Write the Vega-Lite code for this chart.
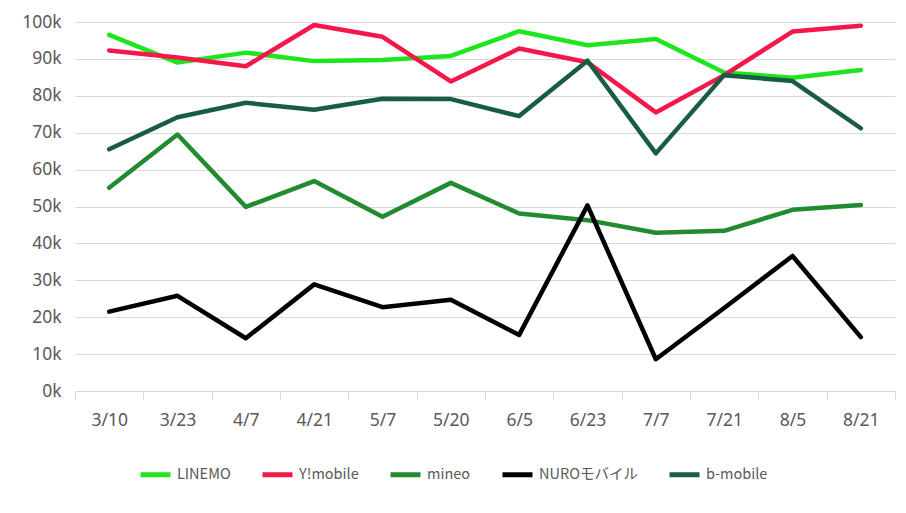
{
  "$schema": "https://vega.github.io/schema/vega-lite/v6.json",
  "width": 820,
  "height": 369,
  "autosize": {"type": "none"},
  "padding": {"left": 75, "top": 22, "right": 11, "bottom": 122},
  "background": "white",
  "config": {
    "view": {"stroke": null},
    "font": "Noto Sans"
  },
  "datasets": {
    "d": [
      {"date": "3/10", "series": "LINEMO", "value": 96500},
      {"date": "3/23", "series": "LINEMO", "value": 89000},
      {"date": "4/7", "series": "LINEMO", "value": 91700},
      {"date": "4/21", "series": "LINEMO", "value": 89400},
      {"date": "5/7", "series": "LINEMO", "value": 89700},
      {"date": "5/20", "series": "LINEMO", "value": 90800},
      {"date": "6/5", "series": "LINEMO", "value": 97500},
      {"date": "6/23", "series": "LINEMO", "value": 93700},
      {"date": "7/7", "series": "LINEMO", "value": 95400},
      {"date": "7/21", "series": "LINEMO", "value": 86300},
      {"date": "8/5", "series": "LINEMO", "value": 84900},
      {"date": "8/21", "series": "LINEMO", "value": 87000},
      {"date": "3/10", "series": "Y!mobile", "value": 92300},
      {"date": "3/23", "series": "Y!mobile", "value": 90400},
      {"date": "4/7", "series": "Y!mobile", "value": 88000},
      {"date": "4/21", "series": "Y!mobile", "value": 99200},
      {"date": "5/7", "series": "Y!mobile", "value": 96000},
      {"date": "5/20", "series": "Y!mobile", "value": 83900},
      {"date": "6/5", "series": "Y!mobile", "value": 92800},
      {"date": "6/23", "series": "Y!mobile", "value": 89100},
      {"date": "7/7", "series": "Y!mobile", "value": 75500},
      {"date": "7/21", "series": "Y!mobile", "value": 85600},
      {"date": "8/5", "series": "Y!mobile", "value": 97400},
      {"date": "8/21", "series": "Y!mobile", "value": 99000},
      {"date": "3/10", "series": "mineo", "value": 55100},
      {"date": "3/23", "series": "mineo", "value": 69500},
      {"date": "4/7", "series": "mineo", "value": 49900},
      {"date": "4/21", "series": "mineo", "value": 56900},
      {"date": "5/7", "series": "mineo", "value": 47200},
      {"date": "5/20", "series": "mineo", "value": 56400},
      {"date": "6/5", "series": "mineo", "value": 48100},
      {"date": "6/23", "series": "mineo", "value": 46300},
      {"date": "7/7", "series": "mineo", "value": 42900},
      {"date": "7/21", "series": "mineo", "value": 43400},
      {"date": "8/5", "series": "mineo", "value": 49100},
      {"date": "8/21", "series": "mineo", "value": 50400},
      {"date": "3/10", "series": "NUROモバイル", "value": 21500},
      {"date": "3/23", "series": "NUROモバイル", "value": 25800},
      {"date": "4/7", "series": "NUROモバイル", "value": 14300},
      {"date": "4/21", "series": "NUROモバイル", "value": 28900},
      {"date": "5/7", "series": "NUROモバイル", "value": 22700},
      {"date": "5/20", "series": "NUROモバイル", "value": 24700},
      {"date": "6/5", "series": "NUROモバイル", "value": 15200},
      {"date": "6/23", "series": "NUROモバイル", "value": 50300},
      {"date": "7/7", "series": "NUROモバイル", "value": 8600},
      {"date": "7/21", "series": "NUROモバイル", "value": 22500},
      {"date": "8/5", "series": "NUROモバイル", "value": 36600},
      {"date": "8/21", "series": "NUROモバイル", "value": 14600},
      {"date": "3/10", "series": "b-mobile", "value": 65500},
      {"date": "3/23", "series": "b-mobile", "value": 74200},
      {"date": "4/7", "series": "b-mobile", "value": 78100},
      {"date": "4/21", "series": "b-mobile", "value": 76200},
      {"date": "5/7", "series": "b-mobile", "value": 79200},
      {"date": "5/20", "series": "b-mobile", "value": 79100},
      {"date": "6/5", "series": "b-mobile", "value": 74500},
      {"date": "6/23", "series": "b-mobile", "value": 89500},
      {"date": "7/7", "series": "b-mobile", "value": 64400},
      {"date": "7/21", "series": "b-mobile", "value": 85600},
      {"date": "8/5", "series": "b-mobile", "value": 84000},
      {"date": "8/21", "series": "b-mobile", "value": 71200}
    ]
  },
  "data": {"name": "d"},
  "mark": {"type": "line", "strokeWidth": 4.5, "strokeJoin": "round", "strokeCap": "round"},
  "encoding": {
    "x": {
      "field": "date",
      "type": "ordinal",
      "scale": {
        "type": "band",
        "domain": ["3/10", "3/23", "4/7", "4/21", "5/7", "5/20", "6/5", "6/23", "7/7", "7/21", "8/5", "8/21"],
        "paddingInner": 0,
        "paddingOuter": 0
      },
      "axis": {
        "title": null,
        "labelAngle": 0,
        "tickBand": "extent",
        "domainColor": "#d9d9d9",
        "tickColor": "#d9d9d9",
        "tickSize": 8,
        "labelPadding": 12,
        "labelFontSize": 17.5,
        "labelColor": "#595959",
        "labelFont": "Noto Sans",
        "grid": false
      }
    },
    "y": {
      "field": "value",
      "type": "quantitative",
      "scale": {"domain": [0, 100000], "nice": false},
      "axis": {
        "title": null,
        "values": [0, 10000, 20000, 30000, 40000, 50000, 60000, 70000, 80000, 90000, 100000],
        "labelExpr": "format(datum.value / 1000, 'd') + 'k'",
        "domain": false,
        "ticks": false,
        "tickSize": 0,
        "labelPadding": 14,
        "labelFontSize": 17.5,
        "labelColor": "#595959",
        "labelFont": "Noto Sans",
        "gridColor": "#d9d9d9",
        "gridWidth": 1
      }
    },
    "color": {
      "field": "series",
      "type": "nominal",
      "scale": {
        "domain": ["LINEMO", "Y!mobile", "mineo", "NUROモバイル", "b-mobile"],
        "range": ["#1ee61e", "#f5164a", "#228b30", "#000000", "#185c44"]
      },
      "legend": {
        "title": null,
        "orient": "none",
        "direction": "horizontal",
        "legendX": 63,
        "legendY": 435,
        "symbolType": "stroke",
        "symbolSize": 900,
        "symbolStrokeWidth": 5,
        "labelOffset": 4,
        "columnPadding": 21,
        "labelFontSize": 14.5,
        "labelColor": "#595959",
        "labelFont": "Noto Sans CJK JP",
        "padding": 0
      }
    }
  }
}
